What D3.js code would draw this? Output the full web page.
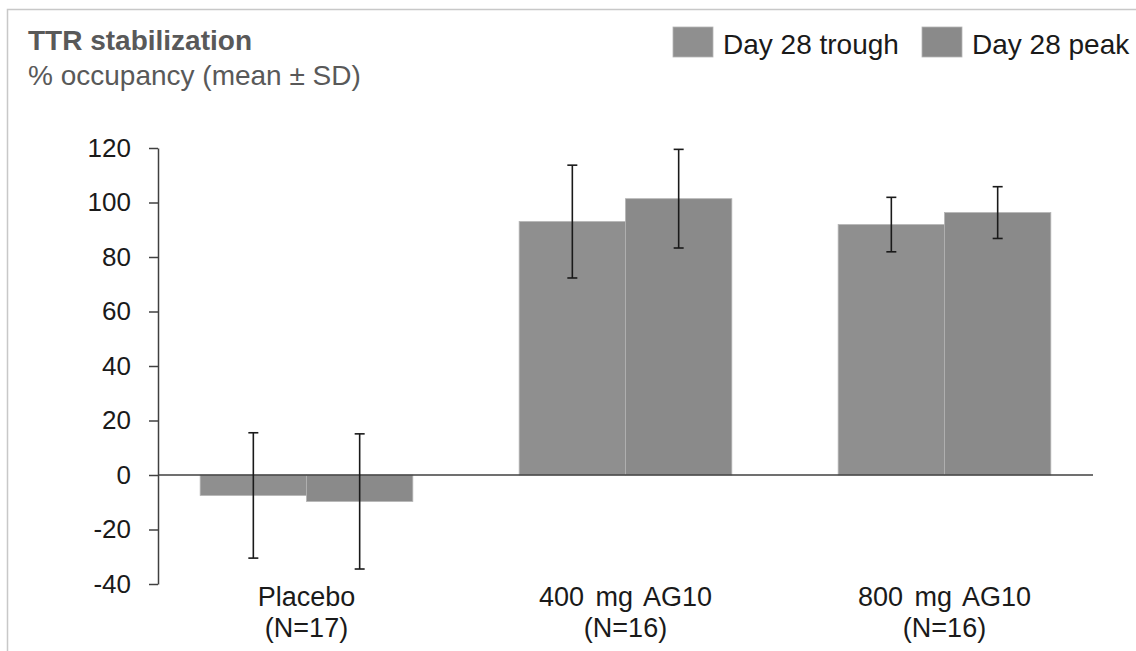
<!DOCTYPE html>
<html>
<head>
<meta charset="utf-8">
<script src="https://cdn.jsdelivr.net/npm/d3@7"></script>
<style>
  body { margin: 0; background: #fff; }
  svg { display: block; font-family: "Liberation Sans", Arial, sans-serif; }
</style>
</head>
<body>
<div id="chart"></div>
<script>
// TTR stabilization - grouped bars with SD error bars

const groups = ["Placebo", "400 mg AG10", "800 mg AG10"];
const groupN = ["(N=17)", "(N=16)", "(N=16)"];
const series = ["Day 28 trough", "Day 28 peak"];
const troughMean = [-7.5, 93.0, 91.9];
const troughSD = [23.0, 20.7, 10.0];
const peakMean = [-9.7, 101.4, 96.3];
const peakSD = [24.8, 18.1, 9.5];
const yTicks = [-40, -20, 0, 20, 40, 60, 80, 100, 120];
const colors = ["#8f8f8f", "#8a8a8a"];

const width = 1136, height = 651;

const svg = d3.select("#chart").append("svg")
  .attr("width", width)
  .attr("height", height);

// light frame round the slide panel
svg.append("path")
  .attr("d", "M7.5," + height + " V9.5 H" + width)
  .attr("fill", "none")
  .attr("stroke", "#c8c8c8")
  .attr("stroke-width", 1.5);

// title
svg.append("text")
  .attr("x", 28).attr("y", 50)
  .style("font-size", "28px").style("font-weight", "bold")
  .attr("fill", "#595959")
  .text("TTR stabilization");

svg.append("text")
  .attr("x", 28).attr("y", 85)
  .style("font-size", "28px")
  .attr("fill", "#595959")
  .text("% occupancy (mean \u00b1 SD)");

// scales
const y = d3.scaleLinear().domain([-40, 120]).range([584, 148]);
const x = d3.scaleBand().domain(groups).range([147, 1104])
  .paddingInner(1 / 3).paddingOuter(1 / 6);
const xs = d3.scaleBand().domain(series).range([0, x.bandwidth()]);

// build rows from the arrays
const rows = [];
groups.forEach(function(g, i) {
  rows.push({ group: g, series: series[0], mean: troughMean[i], sd: troughSD[i], k: 0 });
  rows.push({ group: g, series: series[1], mean: peakMean[i], sd: peakSD[i], k: 1 });
});

// bars
svg.append("g").selectAll("rect")
  .data(rows)
  .enter().append("rect")
  .attr("x", d => x(d.group) + xs(d.series))
  .attr("width", xs.bandwidth())
  .attr("y", d => y(Math.max(0, d.mean)))
  .attr("height", d => Math.abs(y(d.mean) - y(0)))
  .attr("fill", d => colors[d.k])
  .attr("stroke", "#b4b4b4")
  .attr("stroke-width", 0.8);

// y axis (plain hyphen for negatives, like the original)
const yAxis = svg.append("g")
  .attr("transform", "translate(158,0)")
  .call(d3.axisLeft(y).tickValues(yTicks).tickFormat(d => String(d))
    .tickSize(9).tickSizeOuter(0).tickPadding(18));
yAxis.select(".domain").attr("stroke", "#404040").attr("stroke-width", 1.5);
yAxis.selectAll(".tick line").attr("stroke", "#404040").attr("stroke-width", 1.5);
yAxis.selectAll(".tick text")
  .style("font-size", "26px")
  .style("font-family", '"Liberation Sans", Arial, sans-serif')
  .attr("fill", "#1a1a1a");

// zero line
svg.append("line")
  .attr("x1", 158).attr("x2", 1093)
  .attr("y1", y(0)).attr("y2", y(0))
  .attr("stroke", "#404040").attr("stroke-width", 1.5);

// error bars
const err = svg.append("g").selectAll("g")
  .data(rows)
  .enter().append("g")
  .attr("transform", d => "translate(" + (x(d.group) + xs(d.series) + xs.bandwidth() / 2) + ",0)")
  .attr("stroke", "#1a1a1a")
  .attr("stroke-width", 1.6);

err.append("line")
  .attr("x1", 0).attr("x2", 0)
  .attr("y1", d => y(d.mean + d.sd))
  .attr("y2", d => y(d.mean - d.sd));
err.append("line")
  .attr("x1", -5).attr("x2", 5)
  .attr("y1", d => y(d.mean + d.sd))
  .attr("y2", d => y(d.mean + d.sd));
err.append("line")
  .attr("x1", -5).attr("x2", 5)
  .attr("y1", d => y(d.mean - d.sd))
  .attr("y2", d => y(d.mean - d.sd));

// category labels
const cat = svg.append("g").selectAll("text")
  .data(groups)
  .enter().append("text")
  .attr("text-anchor", "middle")
  .style("font-size", "27px")
  .style("word-spacing", "4px")
  .attr("fill", "#1a1a1a");
cat.append("tspan")
  .attr("x", d => x(d) + x.bandwidth() / 2)
  .attr("y", 606)
  .text(d => d);
cat.append("tspan")
  .attr("x", d => x(d) + x.bandwidth() / 2)
  .attr("y", 637)
  .text((d, i) => groupN[i]);

// legend
const legendX = [673, 922];
const legend = svg.append("g").selectAll("g")
  .data(series)
  .enter().append("g")
  .attr("transform", (d, i) => "translate(" + legendX[i] + ",27)");
legend.append("rect")
  .attr("width", 40).attr("height", 30)
  .attr("fill", (d, i) => colors[i])
  .attr("stroke", "#b4b4b4").attr("stroke-width", 0.8);
legend.append("text")
  .attr("x", 50).attr("y", 27)
  .style("font-size", "28px")
  .attr("fill", "#1a1a1a")
  .text(d => d);
</script>
</body>
</html>
